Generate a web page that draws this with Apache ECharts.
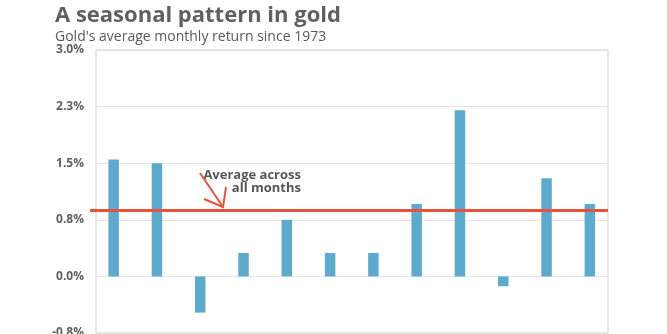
<!DOCTYPE html>
<html><head><meta charset="utf-8">
<script src="https://cdn.jsdelivr.net/npm/echarts@6/dist/echarts.min.js"></script>
<style>html,body{margin:0;padding:0;background:#fff}#c{width:667px;height:334px}</style>
</head><body><div id="c"></div>
<script>
const months = ['Jan','Feb','Mar','Apr','May','Jun','Jul','Aug','Sep','Oct','Nov','Dec'];
const returns = [1.55, 1.50, -0.48, 0.31, 0.75, 0.31, 0.31, 0.96, 2.20, -0.13, 1.30, 0.96];
const averageAll = 0.87;
const yMin = -0.75, yMax = 3.0, yStep = 0.75;
const titleText = 'A seasonal pattern in gold';
const subText = "Gold's average monthly return since 1973";
const noteText = 'Average across\nall months';

const chart = echarts.init(document.getElementById('c'));
const F = '"Open Sans", sans-serif';
chart.setOption({
  animation: false,
  title: {
    text: titleText, subtext: subText, left: 50, top: 0, itemGap: 3,
    textStyle: {fontFamily: F, fontWeight: 'bold', fontSize: 22, color: '#5f6062'},
    subtextStyle: {fontFamily: F, fontSize: 14, color: '#58595b'}
  },
  grid: [
    {left: 96, right: 59, top: 50, bottom: 1, show: true, borderColor: '#cfcfcf', borderWidth: 1, backgroundColor: 'transparent', outerBoundsMode: 'none', containLabel: false},
    {left: 92, right: 55.5, top: 50, bottom: 1, outerBoundsMode: 'none', containLabel: false}
  ],
  xAxis: [
    {type: 'category', data: months, gridIndex: 0, show: false},
    {type: 'category', data: months, gridIndex: 1, show: false}
  ],
  yAxis: [
    {type: 'value', gridIndex: 0, min: yMin, max: yMax, interval: yStep,
     axisLine: {show: false}, axisTick: {show: false},
     splitLine: {lineStyle: {color: '#e3e3e3'}},
     axisLabel: {formatter: v => v.toFixed(1) + '%', fontFamily: F, fontWeight: 'bold', fontSize: 12, color: '#606060', margin: 12}},
    {type: 'value', gridIndex: 1, min: yMin, max: yMax, interval: yStep, show: false, splitLine: {show: false}}
  ],
  series: [
    {type: 'bar', xAxisIndex: 1, yAxisIndex: 1, data: returns, barWidth: 10.5,
     itemStyle: {color: '#5eaacd'}, z: 2},
    {type: 'line', xAxisIndex: 0, yAxisIndex: 0, data: [], z: 5,
     markLine: {symbol: 'none', silent: true, label: {show: false},
       lineStyle: {color: '#e5533d', width: 3, type: 'solid'},
       data: [[{coord: [0, averageAll], x: 90}, {coord: [11, averageAll], x: 608}]]}}
  ],
  graphic: [
    {type: 'text', x: 301, y: 169, z: 10,
     style: {text: noteText, align: 'right', verticalAlign: 'top', fontFamily: F, fontWeight: 'bold', fontSize: 13, lineHeight: 13, fill: '#55565a'}},
    {type: 'polyline', z: 10, shape: {points: [[200, 173], [223, 207]]}, style: {stroke: '#e5533d', lineWidth: 2, fill: null}},
    {type: 'polyline', z: 10, shape: {points: [[204, 199], [223, 207], [226, 187]]}, style: {stroke: '#e5533d', lineWidth: 2, fill: null}}
  ]
});
</script></body></html>
